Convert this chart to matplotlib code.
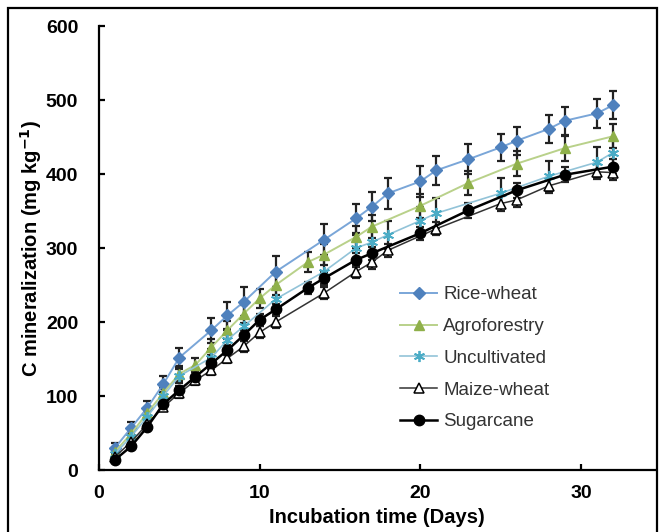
import numpy as np
import matplotlib
matplotlib.use("Agg")
import matplotlib.pyplot as plt
from matplotlib.patches import Rectangle

plt.rcParams['font.family'] = ['Liberation Sans', 'DejaVu Sans']

# data (days, mg C per kg, +/- error)
rw_days = [1, 2, 3, 4, 5, 7, 8, 9, 11, 14, 16, 17, 18, 20, 21, 23, 25, 26, 28, 29, 31, 32]
rw_vals = [30, 57, 84, 116, 152, 189, 209, 227, 268, 311, 340, 356, 374, 390, 405, 420, 436, 445, 461, 472, 482, 493]
rw_err = [6, 8, 9, 11, 13, 17, 18, 20, 21, 21, 20, 20, 21, 21, 20, 20, 18, 19, 19, 19, 20, 19]

af_days = [1, 2, 3, 4, 5, 6, 7, 8, 9, 10, 11, 13, 14, 16, 17, 20, 23, 26, 29, 32]
af_vals = [25, 49, 77, 104, 130, 142, 166, 189, 211, 232, 250, 281, 291, 315, 329, 357, 388, 414, 435, 451]
af_err = [5, 6, 7, 8, 10, 10, 11, 12, 12, 13, 13, 14, 14, 15, 15, 16, 16, 17, 17, 16]

un_days = [1, 2, 3, 4, 5, 7, 8, 9, 11, 14, 16, 17, 18, 20, 21, 25, 28, 31, 32]
un_vals = [22, 45, 72, 100, 127, 152, 176, 194, 231, 268, 300, 308, 318, 337, 347, 374, 397, 416, 429]
un_err = [5, 6, 7, 9, 10, 12, 13, 14, 16, 17, 18, 18, 19, 19, 20, 20, 20, 20, 20]

mw_days = [1, 2, 3, 4, 5, 6, 7, 8, 9, 10, 11, 14, 16, 17, 18, 21, 25, 26, 28, 31, 32]
mw_vals = [18, 38, 62, 85, 104, 121, 135, 151, 167, 186, 200, 239, 268, 281, 297, 326, 360, 365, 384, 403, 402]
mw_err = [3, 4, 5, 5, 6, 6, 7, 7, 7, 8, 8, 8, 9, 9, 9, 9, 10, 10, 10, 10, 10]

sc_days = [1, 2, 3, 4, 5, 6, 7, 8, 9, 10, 11, 13, 14, 16, 17, 20, 23, 26, 29, 32]
sc_vals = [14, 32, 58, 89, 108, 126, 144, 162, 182, 203, 217, 246, 259, 284, 293, 320, 351, 378, 399, 410]
sc_err = [3, 4, 5, 5, 6, 6, 7, 7, 7, 8, 8, 8, 9, 9, 9, 9, 10, 10, 10, 10]

fig = plt.figure(figsize=(6.6, 5.32), dpi=100)
ax = fig.add_axes([0.15, 0.1165, 0.842, 0.8345])

# black frame round the whole figure
fig.patches.append(Rectangle((0.012, -0.05), 0.983, 1.035, transform=fig.transFigure,
                             fill=False, edgecolor='black', linewidth=1.6))

series = [
    ("Rice-wheat", rw_days, rw_vals, rw_err, dict(color='#7aa6d8', marker='D', mfc='#4f81bd', mec='#4f81bd', ms=6.5, lw=1.4)),
    ("Agroforestry", af_days, af_vals, af_err, dict(color='#b9d18a', marker='^', mfc='#8fb04a', mec='#8fb04a', ms=7.5, lw=1.4)),
    ("Uncultivated", un_days, un_vals, un_err, dict(color='#92c3d8', marker=(6, 2, 0), mfc='#4bacc6', mec='#4bacc6', ms=8, mew=1.3, lw=1.2)),
    ("Maize-wheat", mw_days, mw_vals, mw_err, dict(color='#333333', marker='^', mfc='white', mec='black', ms=7.5, mew=1.1, lw=1.1)),
    ("Sugarcane", sc_days, sc_vals, sc_err, dict(color='black', marker='o', mfc='black', mec='black', ms=7.5, lw=1.8)),
]

for name, d, v, e, st in series:
    ax.errorbar(d, v, yerr=e, fmt='none', ecolor='#222222', elinewidth=1.6,
                capsize=3, capthick=1.6)
for name, d, v, e, st in series:
    ax.plot(d, v, label=name, **st)

ax.set_xlim(0, 34.6)
ax.set_ylim(0, 600)
ax.set_xticks([0, 10, 20, 30])
ax.set_yticks(range(0, 601, 100))
for s in ['top', 'right']:
    ax.spines[s].set_visible(False)
for s in ['left', 'bottom']:
    ax.spines[s].set_linewidth(1.6)
ax.tick_params(direction='in', length=4, width=1.6, labelsize=14)
ax.tick_params(axis='x', pad=11)
ax.tick_params(axis='y', pad=15)
for lab in ax.get_xticklabels() + ax.get_yticklabels():
    lab.set_fontweight('bold')

ax.set_xlabel("Incubation time (Days)", fontsize=14.5, fontweight='bold', labelpad=4)
ax.set_ylabel("C mineralization (mg kg$^{\\mathbf{-1}}$)", fontsize=14.5, fontweight='bold', labelpad=1)

leg = ax.legend(loc='upper left', bbox_to_anchor=(0.606, 0.462), bbox_transform=fig.transFigure,
                frameon=False, fontsize=13.5, borderpad=0, borderaxespad=0,
                handlelength=2.0, labelspacing=0.78, handletextpad=0.3)
for t in leg.get_texts():
    t.set_color('#333333')

fig.savefig("out.png", dpi=100)
